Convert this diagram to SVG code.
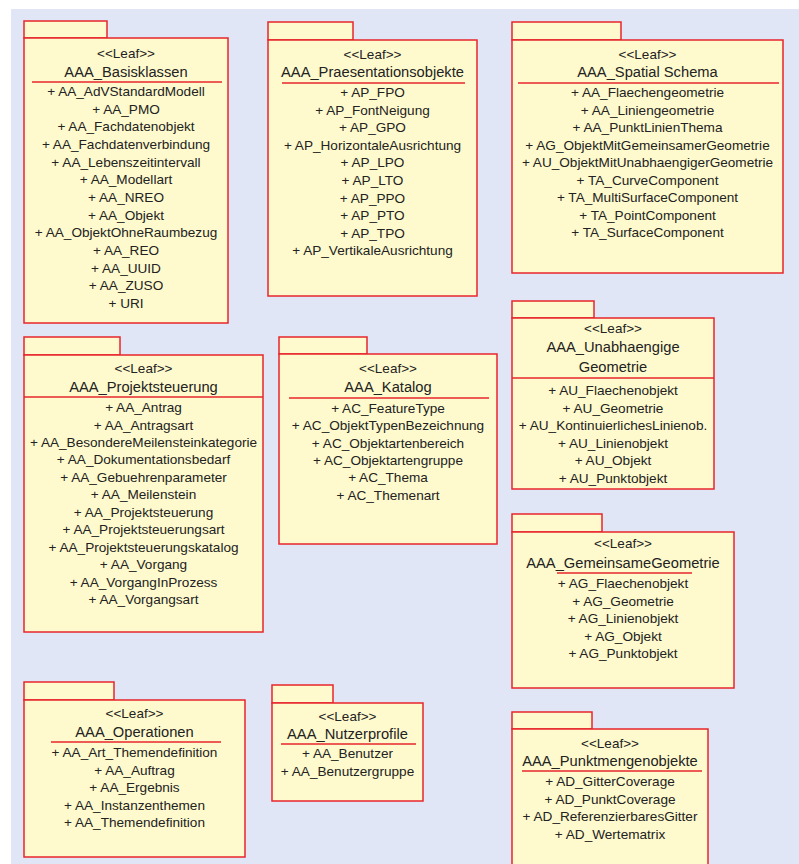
<svg xmlns="http://www.w3.org/2000/svg" width="799" height="864" viewBox="0 0 799 864">
<style>
.bg{fill:#E0E6F5}
.pk{fill:#FFFACD;stroke:#E8242B;stroke-width:1.5}
.sep{stroke:#E8242B;stroke-width:1.5}
text{font-family:"Liberation Sans",Arial,sans-serif;fill:#222;text-anchor:middle}
.st{font-size:13.5px}
.nm{font-size:14.7px}
.it{font-size:13.6px}
</style>
<rect x="0" y="0" width="799" height="864" fill="#FFFFFF"/>
<rect class="bg" x="11" y="9" width="788" height="855"/>

<g id="pkg-basisklassen">
<rect class="pk" x="24" y="21" width="83" height="17"/>
<rect class="pk" x="24" y="38" width="204" height="285"/>
<text class="st" x="126" y="58">&lt;&lt;Leaf&gt;&gt;</text>
<text class="nm" x="126" y="77">AAA_Basisklassen</text>
<line class="sep" x1="32" y1="82" x2="222" y2="82"/>
<text class="it" x="126" y="96">+ AA_AdVStandardModell</text>
<text class="it" x="126" y="113.7">+ AA_PMO</text>
<text class="it" x="126" y="131.3">+ AA_Fachdatenobjekt</text>
<text class="it" x="126" y="149">+ AA_Fachdatenverbindung</text>
<text class="it" x="126" y="166.7">+ AA_Lebenszeitintervall</text>
<text class="it" x="126" y="184.3">+ AA_Modellart</text>
<text class="it" x="126" y="202">+ AA_NREO</text>
<text class="it" x="126" y="219.7">+ AA_Objekt</text>
<text class="it" x="126" y="237.3">+ AA_ObjektOhneRaumbezug</text>
<text class="it" x="126" y="255">+ AA_REO</text>
<text class="it" x="126" y="272.7">+ AA_UUID</text>
<text class="it" x="126" y="290.3">+ AA_ZUSO</text>
<text class="it" x="126" y="308">+ URI</text>
</g>

<g id="pkg-praesentationsobjekte">
<rect class="pk" x="268" y="22" width="85" height="18"/>
<rect class="pk" x="268" y="40" width="209" height="256"/>
<text class="st" x="372.5" y="59">&lt;&lt;Leaf&gt;&gt;</text>
<text class="nm" x="372.5" y="77">AAA_Praesentationsobjekte</text>
<line class="sep" x1="282" y1="83" x2="465" y2="83"/>
<text class="it" x="372.5" y="97">+ AP_FPO</text>
<text class="it" x="372.5" y="114.6">+ AP_FontNeigung</text>
<text class="it" x="372.5" y="132.2">+ AP_GPO</text>
<text class="it" x="372.5" y="149.8">+ AP_HorizontaleAusrichtung</text>
<text class="it" x="372.5" y="167.4">+ AP_LPO</text>
<text class="it" x="372.5" y="185">+ AP_LTO</text>
<text class="it" x="372.5" y="202.6">+ AP_PPO</text>
<text class="it" x="372.5" y="220.2">+ AP_PTO</text>
<text class="it" x="372.5" y="237.8">+ AP_TPO</text>
<text class="it" x="372.5" y="255.4">+ AP_VertikaleAusrichtung</text>
</g>

<g id="pkg-spatial-schema">
<rect class="pk" x="512" y="22" width="109" height="18"/>
<rect class="pk" x="512" y="40" width="271" height="233"/>
<text class="st" x="647.5" y="59">&lt;&lt;Leaf&gt;&gt;</text>
<text class="nm" x="647.5" y="77">AAA_Spatial Schema</text>
<line class="sep" x1="518" y1="83" x2="779" y2="83"/>
<text class="it" x="647.5" y="97">+ AA_Flaechengeometrie</text>
<text class="it" x="647.5" y="114.5">+ AA_Liniengeometrie</text>
<text class="it" x="647.5" y="132">+ AA_PunktLinienThema</text>
<text class="it" x="647.5" y="149.5">+ AG_ObjektMitGemeinsamerGeometrie</text>
<text class="it" x="647.5" y="167">+ AU_ObjektMitUnabhaengigerGeometrie</text>
<text class="it" x="647.5" y="184.5">+ TA_CurveComponent</text>
<text class="it" x="647.5" y="202">+ TA_MultiSurfaceComponent</text>
<text class="it" x="647.5" y="219.5">+ TA_PointComponent</text>
<text class="it" x="647.5" y="237">+ TA_SurfaceComponent</text>
</g>

<g id="pkg-projektsteuerung">
<rect class="pk" x="24" y="337" width="96" height="18"/>
<rect class="pk" x="24" y="355" width="239" height="277"/>
<text class="st" x="143.5" y="373">&lt;&lt;Leaf&gt;&gt;</text>
<text class="nm" x="143.5" y="392">AAA_Projektsteuerung</text>
<line class="sep" x1="24" y1="397" x2="263" y2="397"/>
<text class="it" x="143.5" y="412">+ AA_Antrag</text>
<text class="it" x="143.5" y="429.5">+ AA_Antragsart</text>
<text class="it" x="143.5" y="446.9">+ AA_BesondereMeilensteinkategorie</text>
<text class="it" x="143.5" y="464.4">+ AA_Dokumentationsbedarf</text>
<text class="it" x="143.5" y="481.8">+ AA_Gebuehrenparameter</text>
<text class="it" x="143.5" y="499.3">+ AA_Meilenstein</text>
<text class="it" x="143.5" y="516.7">+ AA_Projektsteuerung</text>
<text class="it" x="143.5" y="534.2">+ AA_Projektsteuerungsart</text>
<text class="it" x="143.5" y="551.6">+ AA_Projektsteuerungskatalog</text>
<text class="it" x="143.5" y="569.1">+ AA_Vorgang</text>
<text class="it" x="143.5" y="586.5">+ AA_VorgangInProzess</text>
<text class="it" x="143.5" y="604">+ AA_Vorgangsart</text>
</g>

<g id="pkg-katalog">
<rect class="pk" x="279" y="337" width="88" height="17"/>
<rect class="pk" x="279" y="354" width="218" height="190"/>
<text class="st" x="388" y="373">&lt;&lt;Leaf&gt;&gt;</text>
<text class="nm" x="388" y="392">AAA_Katalog</text>
<line class="sep" x1="289" y1="398" x2="489" y2="398"/>
<text class="it" x="388" y="413">+ AC_FeatureType</text>
<text class="it" x="388" y="430.3">+ AC_ObjektTypenBezeichnung</text>
<text class="it" x="388" y="447.6">+ AC_Objektartenbereich</text>
<text class="it" x="388" y="464.9">+ AC_Objektartengruppe</text>
<text class="it" x="388" y="482.2">+ AC_Thema</text>
<text class="it" x="388" y="499.5">+ AC_Themenart</text>
</g>

<g id="pkg-unabhaengige-geometrie">
<rect class="pk" x="512" y="301" width="82" height="17"/>
<rect class="pk" x="512" y="318" width="202" height="171"/>
<text class="st" x="613" y="333">&lt;&lt;Leaf&gt;&gt;</text>
<text class="nm" x="613" y="352">AAA_Unabhaengige</text>
<text class="nm" x="613" y="372">Geometrie</text>
<line class="sep" x1="512" y1="378" x2="714" y2="378"/>
<text class="it" x="613" y="395">+ AU_Flaechenobjekt</text>
<text class="it" x="613" y="412.6">+ AU_Geometrie</text>
<text class="it" x="613" y="430.2">+ AU_KontinuierlichesLinienob.</text>
<text class="it" x="613" y="447.8">+ AU_Linienobjekt</text>
<text class="it" x="613" y="465.4">+ AU_Objekt</text>
<text class="it" x="613" y="483">+ AU_Punktobjekt</text>
</g>

<g id="pkg-gemeinsame-geometrie">
<rect class="pk" x="512" y="514" width="90" height="18"/>
<rect class="pk" x="512" y="532" width="222" height="156"/>
<text class="st" x="623" y="548">&lt;&lt;Leaf&gt;&gt;</text>
<text class="nm" x="623" y="568">AAA_GemeinsameGeometrie</text>
<line class="sep" x1="557" y1="573" x2="692" y2="573"/>
<text class="it" x="623" y="588">+ AG_Flaechenobjekt</text>
<text class="it" x="623" y="605.5">+ AG_Geometrie</text>
<text class="it" x="623" y="623">+ AG_Linienobjekt</text>
<text class="it" x="623" y="640.5">+ AG_Objekt</text>
<text class="it" x="623" y="658">+ AG_Punktobjekt</text>
</g>

<g id="pkg-operationen">
<rect class="pk" x="24" y="682" width="90" height="18"/>
<rect class="pk" x="24" y="700" width="221" height="157"/>
<text class="st" x="134.5" y="718">&lt;&lt;Leaf&gt;&gt;</text>
<text class="nm" x="134.5" y="737">AAA_Operationen</text>
<line class="sep" x1="51" y1="742" x2="221" y2="742"/>
<text class="it" x="134.5" y="757">+ AA_Art_Themendefinition</text>
<text class="it" x="134.5" y="774.5">+ AA_Auftrag</text>
<text class="it" x="134.5" y="792">+ AA_Ergebnis</text>
<text class="it" x="134.5" y="809.5">+ AA_Instanzenthemen</text>
<text class="it" x="134.5" y="827">+ AA_Themendefinition</text>
</g>

<g id="pkg-nutzerprofile">
<rect class="pk" x="272" y="685" width="61" height="18"/>
<rect class="pk" x="272" y="703" width="151" height="98"/>
<text class="st" x="347.5" y="721">&lt;&lt;Leaf&gt;&gt;</text>
<text class="nm" x="347.5" y="739">AAA_Nutzerprofile</text>
<line class="sep" x1="281" y1="744" x2="416" y2="744"/>
<text class="it" x="347.5" y="758">+ AA_Benutzer</text>
<text class="it" x="347.5" y="776">+ AA_Benutzergruppe</text>
</g>

<g id="pkg-punktmengenobjekte">
<rect class="pk" x="512" y="712" width="80" height="17"/>
<rect class="pk" x="512" y="729" width="196" height="140"/>
<text class="st" x="610" y="748">&lt;&lt;Leaf&gt;&gt;</text>
<text class="nm" x="610" y="766">AAA_Punktmengenobjekte</text>
<line class="sep" x1="522" y1="771" x2="702" y2="771"/>
<text class="it" x="610" y="786">+ AD_GitterCoverage</text>
<text class="it" x="610" y="803.7">+ AD_PunktCoverage</text>
<text class="it" x="610" y="821.3">+ AD_ReferenzierbaresGitter</text>
<text class="it" x="610" y="839">+ AD_Wertematrix</text>
</g>
</svg>
